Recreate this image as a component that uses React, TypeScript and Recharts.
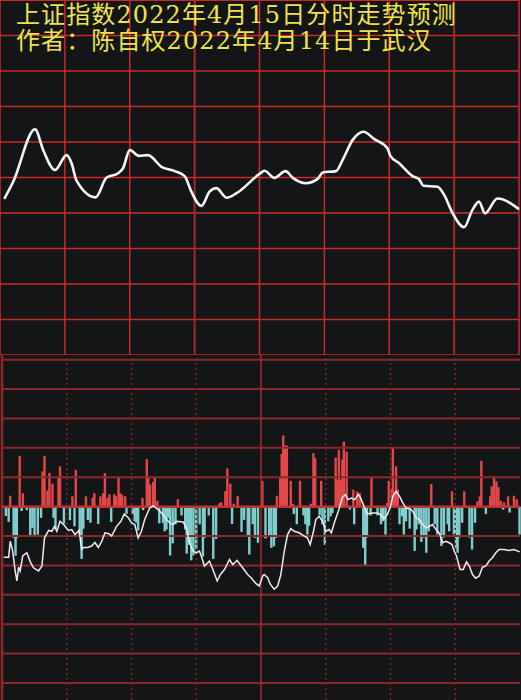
import React from 'react';
import {
  LineChart, Line, ComposedChart, Bar, XAxis, YAxis, ReferenceLine,
} from 'recharts';

// minutes since open (0..240) and index level, top intraday forecast
const mainTimes = [2.0, 6.1, 16.2, 20.0, 25.4, 30.8, 33.1, 35.4, 44.2, 49.2, 54.6, 56.9, 60.0, 64.3, 68.4, 74.9, 80.8, 85.4, 88.5, 93.1, 96.9, 100.0, 104.9, 109.2, 120.0, 122.3, 126.9, 132.0, 135.4, 141.5, 146.9, 149.2, 155.4, 158.4, 163.1, 168.1, 173.1, 179.2, 180.5, 184.6, 190.8, 193.8, 195.8, 202.3, 205.4, 209.2, 214.6, 218.4, 221.5, 224.3, 230.0, 240.0];
const mainValues = [3194.0, 3198.8, 3213.6, 3207.7, 3202.1, 3206.3, 3204.0, 3199.1, 3194.4, 3199.9, 3201.2, 3202.6, 3207.7, 3206.1, 3206.3, 3202.9, 3201.8, 3200.4, 3196.0, 3192.0, 3196.0, 3197.0, 3194.3, 3195.5, 3201.0, 3201.9, 3199.9, 3201.8, 3199.9, 3198.4, 3199.6, 3201.4, 3201.8, 3204.9, 3210.6, 3212.9, 3210.8, 3208.2, 3206.1, 3204.0, 3200.4, 3199.5, 3197.7, 3197.4, 3195.1, 3190.1, 3186.0, 3190.8, 3193.2, 3189.9, 3194.1, 3191.1];

// money flow bars (positive = red, negative = cyan)
const flowTimes = [1.8, 3.1, 3.8, 5.4, 6.3, 6.9, 8.2, 9.1, 9.7, 11.5, 13.1, 14.1, 15.1, 16.6, 18.1, 18.8, 19.7, 21.1, 22.0, 23.4, 23.9, 24.8, 26.2, 26.9, 28.7, 31.5, 32.6, 33.6, 34.2, 36.0, 36.9, 37.7, 38.9, 39.8, 41.0, 42.0, 42.8, 44.6, 45.6, 46.9, 47.7, 48.9, 49.8, 50.6, 52.0, 52.8, 54.0, 54.8, 55.7, 57.1, 57.7, 60.6, 61.5, 62.3, 63.1, 65.1, 65.4, 67.1, 67.8, 68.6, 70.0, 70.8, 72.0, 72.9, 74.6, 75.4, 76.2, 76.9, 77.9, 79.1, 80.4, 81.5, 83.2, 84.9, 85.6, 86.7, 87.7, 88.7, 90.0, 91.6, 93.1, 93.9, 95.8, 97.9, 99.2, 100.8, 101.5, 103.5, 104.4, 105.8, 106.6, 107.4, 109.2, 111.0, 112.2, 113.9, 114.6, 116.2, 117.2, 118.6, 120.6, 122.1, 123.8, 124.8, 126.0, 126.9, 127.4, 128.9, 129.6, 130.3, 131.1, 132.0, 133.8, 134.8, 135.2, 136.6, 138.1, 139.7, 140.6, 141.5, 142.3, 143.1, 144.3, 145.1, 147.2, 147.9, 148.5, 149.6, 151.2, 152.3, 153.1, 154.6, 155.4, 156.1, 156.9, 157.7, 158.4, 159.7, 161.2, 162.8, 163.2, 164.6, 165.8, 167.4, 168.3, 169.1, 170.8, 171.2, 174.0, 175.6, 176.6, 177.7, 178.5, 179.2, 180.5, 181.1, 181.8, 182.6, 183.4, 184.2, 185.4, 186.2, 187.2, 188.9, 191.2, 192.0, 193.2, 194.3, 195.4, 196.6, 197.7, 198.9, 200.5, 201.7, 203.6, 204.8, 206.5, 207.2, 208.5, 209.4, 210.4, 211.1, 211.9, 213.2, 214.2, 216.6, 217.8, 219.2, 220.3, 221.4, 222.1, 224.2, 226.2, 226.9, 228.0, 229.1, 230.0, 231.1, 232.2, 232.6, 234.5, 235.2, 237.2, 238.5, 239.8];
const flowValues = [-0.32, -0.52, 0.37, -1.06, -1.67, -1.06, 1.73, -0.15, 0.46, -0.12, -0.97, -0.72, -0.97, -0.95, -0.38, 1.2, 1.73, 0.55, 1.15, 0.78, -0.38, -0.75, 1.03, 1.37, -0.58, -0.46, 0.35, -0.67, 1.25, -0.95, -1.78, -0.75, 0.35, -0.45, -0.55, 0.3, 0.46, -0.59, 0.35, 0.46, 1.14, 0.3, 0.42, -0.52, 0.42, 0.35, 1.0, 0.46, 0.4, 0.35, -0.25, -0.25, -0.5, -0.55, -0.81, 0.3, -0.12, 1.62, 1.0, 0.75, 0.84, 1.0, 0.2, -0.57, -0.55, -0.84, -0.78, -0.38, -1.66, -1.25, -0.6, 0.26, -0.3, -0.78, -1.6, -1.3, -1.83, -1.66, -1.46, -0.6, -1.7, -1.06, -0.3, -1.78, -1.1, 0.12, 0.15, 0.53, 1.3, 0.78, -0.59, 0.1, 0.36, -0.86, -0.45, -1.0, -1.63, -0.6, -1.06, -1.23, 0.88, -1.08, -1.0, -1.4, -1.35, -1.06, 0.37, 1.03, 1.79, 2.42, 2.08, 2.08, 0.88, 0.1, -0.25, -0.6, 0.88, -0.3, -0.6, -0.95, -0.65, 0.1, 1.82, 1.65, -0.3, 0.88, -0.6, -1.3, -0.5, -0.33, -0.22, 1.67, 0.9, 1.93, 0.9, 1.6, 2.21, 1.87, -0.1, 0.58, -0.6, 0.52, 0.46, -1.4, -1.99, -1.05, -0.3, 1.0, -0.3, -0.6, -0.5, -0.95, 0.12, 0.88, 0.6, 2.0, 0.52, 1.37, 0.58, -0.6, -0.33, -0.95, -0.5, -0.75, -1.51, -0.78, -0.6, -1.2, -1.05, -1.57, -0.84, 0.77, -0.6, -0.95, -1.34, -1.05, -0.6, -0.84, 0.52, -0.95, -1.4, -1.57, -1.05, -0.55, 0.52, -1.05, -1.46, -0.55, 0.18, 0.35, 1.56, -0.25, 0.35, 0.69, 1.03, 0.86, 0.66, 0.2, -0.1, 0.15, 0.35, -0.2, 0.37, 0.25, -0.95];

// white line in the lower panel
const breadthTimes = [0.8, 3.1, 3.8, 4.9, 6.1, 6.9, 7.7, 8.4, 9.6, 11.5, 13.1, 14.6, 16.9, 18.5, 19.7, 21.6, 23.1, 24.3, 25.4, 26.9, 28.5, 30.8, 32.3, 33.8, 35.7, 36.9, 37.7, 39.7, 41.5, 43.1, 44.6, 46.2, 47.7, 49.5, 50.8, 53.1, 55.1, 56.6, 58.5, 60.0, 61.5, 63.1, 64.6, 66.1, 68.4, 70.0, 72.3, 74.6, 76.2, 77.7, 79.2, 80.8, 83.9, 85.4, 86.9, 88.5, 90.0, 91.5, 92.6, 93.8, 96.1, 97.7, 99.7, 101.2, 103.1, 105.4, 106.9, 108.9, 111.5, 113.8, 115.4, 117.7, 119.2, 120.8, 121.5, 123.1, 124.3, 126.1, 127.7, 129.2, 130.8, 132.3, 133.8, 135.4, 137.7, 140.0, 141.5, 142.8, 144.3, 145.4, 146.9, 148.5, 150.0, 151.5, 152.6, 154.2, 156.1, 157.7, 159.2, 160.3, 161.9, 163.4, 165.1, 166.2, 167.7, 169.2, 171.5, 173.9, 175.4, 176.9, 178.5, 180.0, 181.1, 182.6, 184.2, 185.7, 187.2, 189.1, 190.3, 191.9, 193.4, 194.9, 196.5, 198.0, 199.5, 201.1, 202.6, 204.1, 205.7, 207.2, 208.5, 209.5, 210.6, 212.2, 213.7, 215.2, 216.5, 218.0, 219.5, 221.1, 222.6, 224.2, 225.7, 227.2, 228.8, 230.3, 232.6, 234.9, 237.2, 239.9];
const breadthValues = [-1.72, -1.72, -1.18, -1.49, -2.19, -2.53, -2.06, -2.19, -1.68, -1.57, -1.88, -2.08, -2.19, -2.02, -1.06, -0.81, -0.84, -0.67, -0.84, -0.5, -0.61, -0.81, -0.78, -0.95, -0.81, -1.46, -1.39, -1.39, -1.34, -1.22, -1.39, -1.18, -0.89, -0.92, -1.0, -0.67, -0.5, -0.25, -0.38, -0.55, -0.61, -1.06, -0.84, -0.44, -0.05, 0.03, -0.1, -0.27, -0.44, -0.55, -0.61, -0.5, -0.52, -0.72, -1.23, -1.51, -1.57, -1.51, -1.74, -2.02, -1.85, -2.14, -2.53, -2.31, -2.14, -1.8, -1.97, -1.83, -2.08, -2.31, -2.42, -2.62, -2.7, -2.36, -2.31, -2.42, -2.64, -2.81, -2.7, -2.31, -1.51, -0.95, -0.75, -0.84, -0.89, -1.0, -1.06, -1.29, -0.84, -0.44, -0.33, -0.5, -0.84, -0.78, -0.89, -0.5, -0.1, 0.32, 0.41, 0.24, 0.29, 0.24, 0.41, 0.29, 0.01, -0.25, -0.22, -0.22, -0.27, -0.42, -0.27, 0.01, 0.35, 0.52, 0.35, 0.13, -0.05, -0.07, -0.16, -0.38, -0.44, -0.61, -0.72, -0.67, -0.61, -0.78, -0.89, -1.23, -1.18, -1.23, -1.29, -1.51, -1.68, -2.14, -2.14, -1.88, -2.02, -2.31, -2.44, -2.36, -2.06, -2.02, -1.85, -1.74, -1.57, -1.46, -1.46, -1.49, -1.46, -1.54];

const timeTicks = [30, 60, 90, 120, 150, 180, 210];
const priceTicks = [3160, 3170, 3180, 3190, 3200, 3210, 3220, 3230, 3240];
const flowTicks = [-6, -5, -4, -3, -2, -1, 1, 2, 3, 4, 5];

const mainData = mainTimes.map((t, i) => ({ t, v: mainValues[i] }));
const flowData = flowTimes.map((t, i) => ({ t, v: flowValues[i] }));
const breadthData = breadthTimes.map((t, i) => ({ t, v: breadthValues[i] }));

const BG = '#141517';
const GRID = '#cc2a2a';
const GRID_DARK = '#8c2a2a';
const W = 521;

// fixed-width bar, recharts shrinks bars on a dense number axis
const FlowBar = (props: any) => {
  const { x, y, width, height, payload } = props;
  if (height == null || !isFinite(y)) return null;
  const top = height < 0 ? y + height : y;
  const h = Math.abs(height);
  const cx = x + width / 2;
  return <rect x={cx - 1.2} y={top} width={2.4} height={h} fill={payload.v >= 0 ? '#e4474a' : '#7fcfcf'} />;
};

export default function App() {
  const titleStyle: React.CSSProperties = {
    position: 'absolute', left: 16, fontSize: 24, lineHeight: '26px', letterSpacing: 1.1,
    color: '#ece54a', fontFamily: "'DejaVu Serif', 'Noto Sans CJK SC', sans-serif", whiteSpace: 'nowrap',
  };
  const bottomMargin = { top: 0, right: 1, left: 2, bottom: 0 };
  return (
    <div style={{ position: 'fixed', left: 0, top: 0, width: W, height: 700, background: BG, overflow: 'hidden' }}>
      <div style={{ position: 'absolute', left: 0, top: 0 }}>
        <LineChart width={W} height={355} data={mainData} margin={{ top: 0, right: 2, left: 0, bottom: 0 }}>
          <XAxis type="number" dataKey="t" domain={[0, 240]} hide />
          <YAxis type="number" domain={[3150, 3250]} hide />
          {priceTicks.map((p) => (
            <ReferenceLine key={p} y={p} stroke={p === 3190 ? '#a32828' : GRID} strokeWidth={p === 3190 ? 2 : 1.5} />
          ))}
          <ReferenceLine y={3150} stroke={GRID} strokeWidth={1.5} />
          <ReferenceLine y={3250} stroke={GRID} strokeWidth={2} />
          {[0, ...timeTicks, 240].map((t) => (
            <ReferenceLine key={t} x={t} stroke={t === 90 || t === 210 ? '#a32828' : GRID}
              strokeWidth={t === 90 || t === 210 ? 2 : 1.5} />
          ))}
          <Line type="monotone" dataKey="v" stroke="#f4f4f4" strokeWidth={2.6} dot={false} activeDot={false} isAnimationActive={false} />
        </LineChart>
      </div>

      <div style={{ position: 'absolute', left: 0, top: 355 }}>
        <ComposedChart width={W} height={345} data={flowData} margin={bottomMargin}>
          <XAxis type="number" dataKey="t" domain={[0, 240]} hide />
          <YAxis type="number" domain={[-6.58, 5.16]} hide allowDataOverflow />
          {flowTicks.map((f) => (
            <ReferenceLine key={f} y={f} stroke={GRID_DARK} strokeWidth={2} />
          ))}
          {timeTicks.map((t) => (
            <ReferenceLine key={t} x={t} stroke={t === 120 ? '#a82a2a' : '#7a2727'} strokeWidth={1.5}
              strokeDasharray={t === 120 ? undefined : '2 3'} />
          ))}
          <ReferenceLine x={0} stroke={GRID_DARK} strokeWidth={2.5} />
          <Bar dataKey="v" barSize={2} shape={FlowBar} isAnimationActive={false} />
          <ReferenceLine y={0} stroke="#c03434" strokeWidth={2.5} />
        </ComposedChart>
      </div>

      <div style={{ position: 'absolute', left: 0, top: 355 }}>
        <LineChart width={W} height={345} data={breadthData} margin={bottomMargin}>
          <XAxis type="number" dataKey="t" domain={[0, 240]} hide />
          <YAxis type="number" domain={[-6.58, 5.16]} hide allowDataOverflow />
          <Line type="linear" dataKey="v" stroke="#ececec" strokeWidth={1.5} dot={false} activeDot={false} isAnimationActive={false} />
        </LineChart>
      </div>

      <div style={{ ...titleStyle, top: 2 }}>上证指数2022年4月15日分时走势预测</div>
      <div style={{ ...titleStyle, top: 28 }}>作者：陈自权2022年4月14日于武汉</div>
    </div>
  );
}
